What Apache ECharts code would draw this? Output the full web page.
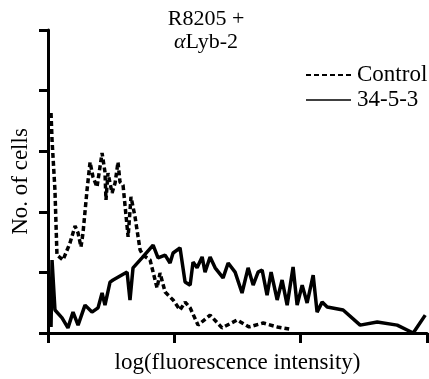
<!DOCTYPE html>
<html>
<head>
<meta charset="utf-8">
<script src="https://cdn.jsdelivr.net/npm/echarts@6/dist/echarts.min.js"></script>
<style>html,body{margin:0;padding:0;background:#fff;}#c{width:429px;height:379px;}</style>
</head>
<body>
<div id="c"></div>
<script>
// x: log fluorescence (100 units per decade), y: relative number of cells
var controlX = [2.4,3.2,5.5,7.1,11.9,17.4,21.4,23.8,26.1,27.7,30.9,33.3,35.6,38.8,42.8,45.1,45.9,47.5,50.7,53.1,55.4,57.0,59.4,63.4,65.7,68.9,72.9,75.2,80.8,86.3,88.7,92.7,99.0,104.5,108.5,112.5,118.8,128.3,137.8,149.7,159.2,170.3,181.4,190.9];
var controlY = [72.6,63.7,47.2,25.7,24.1,29.7,35.3,33.0,28.4,33.0,47.2,56.4,51.5,48.2,59.4,53.1,43.9,52.8,46.2,49.5,56.4,49.8,48.8,31.7,44.9,38.3,27.4,25.7,24.1,14.9,19.8,13.5,10.9,7.6,10.2,8.3,2.6,5.9,1.7,4.3,2.0,3.3,2.0,1.3];
var testX = [2.4,3.2,5.5,11.1,15.8,19.8,23.8,29.3,34.8,39.6,42.8,45.1,49.1,51.5,62.6,64.9,67.3,74.4,83.2,87.1,92.7,96.6,99.0,104.5,108.5,112.5,114.8,118.0,122.0,124.3,128.3,132.3,138.6,142.6,148.1,153.6,158.4,162.4,166.3,169.5,173.4,176.6,181.4,185.3,189.3,194.0,197.2,201.2,205.1,209.9,213.0,217.0,221.0,233.6,247.1,260.6,276.4,289.1,298.6];
var testY = [2.0,24.1,7.6,5.0,1.7,6.9,2.6,9.2,6.9,8.3,13.2,9.2,16.8,17.5,20.1,10.9,21.5,24.8,29.0,24.8,25.7,23.1,26.4,28.1,16.8,15.8,23.4,21.5,25.1,20.1,25.1,21.5,18.2,23.1,20.1,13.2,21.5,15.8,20.1,20.8,12.5,20.1,10.9,17.5,9.2,21.8,9.2,15.8,9.9,19.1,6.9,10.2,8.6,7.6,2.6,3.6,2.6,0.0,5.9];
var seriesNames = ['Control','34-5-3'];
var titleLines = ['R8205 +','αLyb-2'];
var xName = 'log(fluorescence intensity)';
var yName = 'No. of cells';

function pairs(xs, ys){ return xs.map(function(x,i){ return [x, ys[i]]; }); }

var serif = 'Liberation Serif';
var dashPattern = [5,3];
var chart = echarts.init(document.getElementById('c'), null, {renderer:'canvas'});
chart.setOption({
  backgroundColor: '#fff',
  animation: false,
  title: {
    text: titleLines[0] + '\n{i|α}Lyb-2',
    left: 201, top: 3, textAlign: 'center',
    textStyle: {
      fontFamily: serif, fontSize: 22, fontWeight: 'normal', color: '#000', lineHeight: 23,
      rich: { i: { fontFamily: serif, fontStyle: 'italic', fontSize: 22, color: '#000' } }
    }
  },
  graphic: [
    { type: 'line', shape: { x1: 306, y1: 75, x2: 352, y2: 75 }, style: { stroke: '#000', lineWidth: 1.8, lineDash: [5,3] } },
    { type: 'text', x: 357, y: 75, style: { text: seriesNames[0], fill: '#000', font: '23px "Liberation Serif"', textVerticalAlign: 'middle', verticalAlign: 'middle' } },
    { type: 'line', shape: { x1: 306, y1: 100, x2: 351, y2: 100 }, style: { stroke: '#000', lineWidth: 1.5 } },
    { type: 'text', x: 357, y: 100, style: { text: seriesNames[1], fill: '#000', font: '23px "Liberation Serif"', textVerticalAlign: 'middle', verticalAlign: 'middle' } }
  ],
  grid: { left: 48, right: 2, top: 30, bottom: 46, containLabel: false },
  xAxis: {
    type: 'value', min: 0, max: 300, interval: 100,
    name: xName, nameLocation: 'middle', nameGap: 18,
    nameTextStyle: { fontFamily: serif, fontSize: 23, color: '#000' },
    axisLine: { show: true, lineStyle: { color: '#000', width: 3 } },
    axisTick: { show: true, inside: false, length: 10, lineStyle: { color: '#000', width: 3 } },
    axisLabel: { show: false },
    splitLine: { show: false }
  },
  yAxis: {
    type: 'value', min: 0, max: 100, interval: 20,
    name: yName, nameLocation: 'middle', nameGap: 16,
    nameTextStyle: { fontFamily: serif, fontSize: 23, color: '#000' },
    axisLine: { show: true, lineStyle: { color: '#000', width: 3 } },
    axisTick: { show: true, inside: false, length: 9, lineStyle: { color: '#000', width: 3 } },
    axisLabel: { show: false },
    splitLine: { show: false }
  },
  series: [
    {
      name: seriesNames[0], type: 'line', symbol: 'none', data: pairs(controlX, controlY),
      lineStyle: { color: '#000', width: 3.5, type: dashPattern }, itemStyle: { color: '#000' }
    },
    {
      name: seriesNames[1], type: 'line', symbol: 'none', data: pairs(testX, testY),
      lineStyle: { color: '#000', width: 3.5, type: 'solid' }, itemStyle: { color: '#000' }
    }
  ]
});
</script>
</body>
</html>
